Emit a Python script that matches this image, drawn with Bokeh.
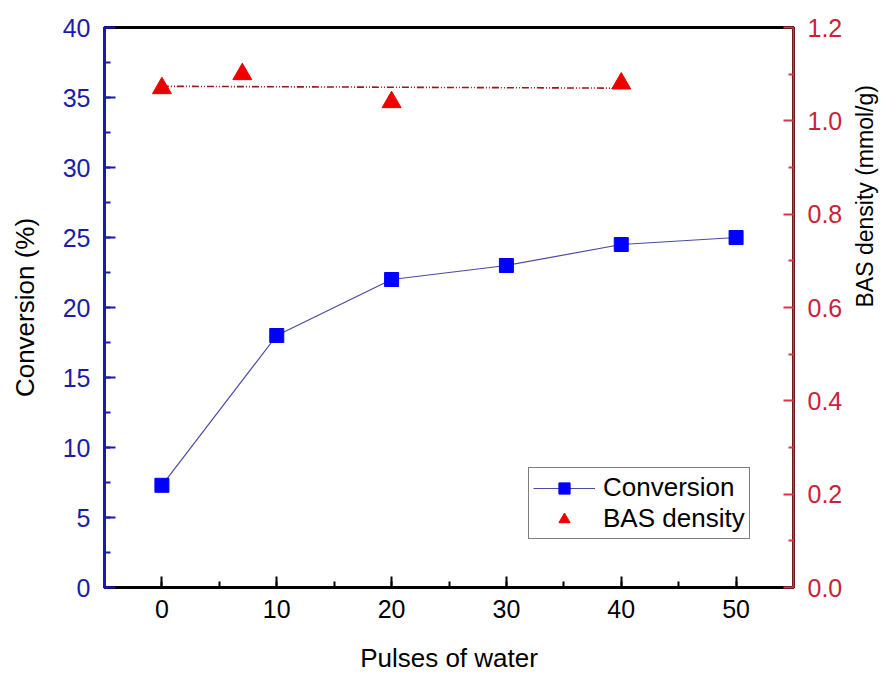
import math
from bokeh.plotting import figure
from bokeh.models import (Range1d, LinearAxis, SingleIntervalTicker, FixedTicker, Legend,
                          LegendItem, ColumnDataSource, NumeralTickFormatter)
from bokeh.embed import file_html
from bokeh.resources import INLINE

# ---- data ----
pulses = [0, 10, 20, 30, 40, 50]
conversion = [7.3, 18.0, 22.0, 23.0, 24.5, 25.0]

bas_pulses = [0, 7, 20, 40]
bas_density = [1.07, 1.10, 1.04, 1.08]

fit_x = [0, 40]
fit_y = [1.074, 1.070]

right_ticks = [0.0, 0.2, 0.4, 0.6, 0.8, 1.0, 1.2]
right_minor = [0.1, 0.3, 0.5, 0.7, 0.9, 1.1]

FONT = "Liberation Sans"
BLUE = "#0000ff"
BLUE_AX = "#1a1ab0"
BLUE_TXT = "#1c1ca8"
RED = "#ee0000"
RED_AX = "#dd3344"
RED_TXT = "#cc1f3a"

p = figure(width=894, height=675, x_range=Range1d(-5, 55), y_range=Range1d(0, 40),
           output_backend="svg", toolbar_location=None,
           min_border_left=104, min_border_right=99, min_border_top=27, min_border_bottom=87)
p.background_fill_color = "white"
p.border_fill_color = "white"
p.outline_line_color = "black"
p.outline_line_width = 3
p.xgrid.visible = False
p.ygrid.visible = False

p.extra_y_ranges = {"bas": Range1d(0, 1.2)}

# x axis
xa = p.xaxis[0]
xa.ticker = SingleIntervalTicker(interval=10, num_minor_ticks=2)
xa.axis_label = "Pulses of water"
xa.axis_line_color = "black"
xa.axis_line_width = 2
xa.major_tick_in = 11
xa.major_tick_out = 0
xa.minor_tick_in = 6
xa.minor_tick_out = 0
xa.major_tick_line_width = 2
xa.minor_tick_line_width = 2
xa.major_label_text_font = FONT
xa.major_label_text_font_size = "25px"
xa.major_label_text_color = "black"
xa.major_label_standoff = 12
xa.axis_label_text_font = FONT
xa.axis_label_text_font_size = "26px"
xa.axis_label_text_font_style = "normal"
xa.axis_label_text_color = "black"
xa.axis_label_standoff = 22

# left y axis
ya = p.yaxis[0]
ya.ticker = SingleIntervalTicker(interval=5, num_minor_ticks=2)
ya.axis_label = "Conversion (%)"
ya.axis_line_color = BLUE_AX
ya.axis_line_width = 3
ya.major_tick_line_color = BLUE_AX
ya.minor_tick_line_color = BLUE_AX
ya.major_tick_line_width = 2
ya.minor_tick_line_width = 2
ya.major_tick_in = 11
ya.major_tick_out = 0
ya.minor_tick_in = 6
ya.minor_tick_out = 0
ya.major_label_text_font = FONT
ya.major_label_text_font_size = "25px"
ya.major_label_text_color = BLUE_TXT
ya.major_label_standoff = 14
ya.axis_label_text_font = FONT
ya.axis_label_text_font_size = "26px"
ya.axis_label_text_font_style = "normal"
ya.axis_label_text_color = "black"
ya.axis_label_standoff = 20

# right y axis
ra = LinearAxis(y_range_name="bas",
                ticker=FixedTicker(ticks=right_ticks, minor_ticks=right_minor),
                formatter=NumeralTickFormatter(format="0.0"))
ra.axis_label = "BAS density (mmol/g)"
ra.axis_label_orientation = math.pi / 2
ra.axis_line_color = RED_AX
ra.axis_line_width = 2
ra.major_tick_line_color = RED_AX
ra.minor_tick_line_color = RED_AX
ra.major_tick_line_width = 2
ra.minor_tick_line_width = 2
ra.major_tick_in = 10
ra.major_tick_out = 0
ra.minor_tick_in = 5
ra.minor_tick_out = 0
ra.major_label_text_font = FONT
ra.major_label_text_font_size = "25px"
ra.major_label_text_color = RED_TXT
ra.major_label_standoff = 14
ra.axis_label_text_font = FONT
ra.axis_label_text_font_size = "23px"
ra.axis_label_text_font_style = "normal"
ra.axis_label_text_color = "black"
ra.axis_label_standoff = 20
p.add_layout(ra, "right")

# conversion series
conv_src = ColumnDataSource(dict(x=pulses, y=conversion))
line_r = p.line("x", "y", source=conv_src, line_color="#4a4aa0", line_width=1.2)
sq_r = p.scatter("x", "y", source=conv_src, marker="square", size=14,
                 fill_color=BLUE, line_color=BLUE)

# BAS density
fit_r = p.line(fit_x, fit_y, y_range_name="bas", line_color="#a01515", line_width=1.6,
               line_dash="7 2 1 2 1 2")
tri_src = ColumnDataSource(dict(x=bas_pulses, y=bas_density))
tri_r = p.scatter("x", "y", source=tri_src, y_range_name="bas", marker="triangle", size=19,
                  fill_color=RED, line_color=RED)

legend = Legend(items=[LegendItem(label="Conversion", renderers=[line_r, sq_r]),
                       LegendItem(label="BAS density", renderers=[tri_r])],
                location=(424, 48))
legend.label_text_font = FONT
legend.label_text_font_size = "26px"
legend.label_text_color = "black"
legend.glyph_width = 62
legend.glyph_height = 28
legend.label_height = 28
legend.label_standoff = 8
legend.spacing = 0
legend.padding = 4
legend.margin = 0
legend.border_line_color = "black"
legend.border_line_width = 1.5
legend.background_fill_alpha = 1.0
p.add_layout(legend, "center")

open("out.html", "w").write(file_html(p, INLINE))
